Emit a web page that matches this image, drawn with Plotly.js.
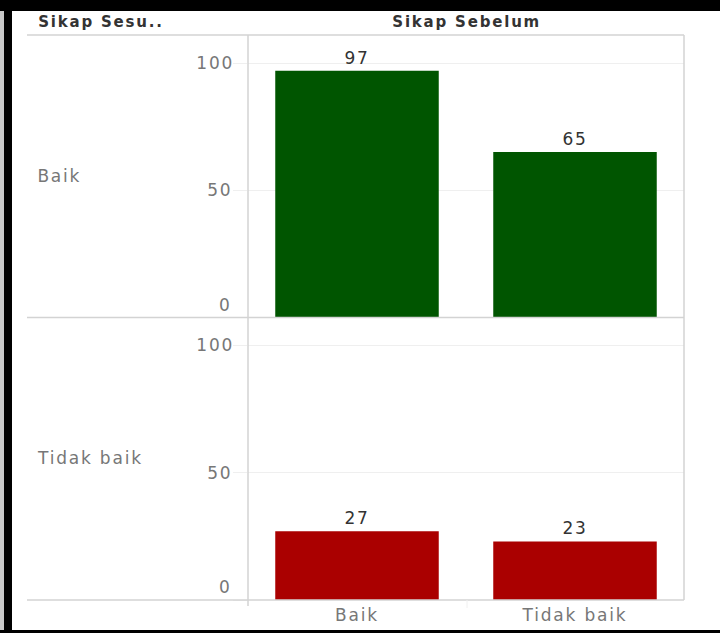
<!DOCTYPE html>
<html>
<head>
<meta charset="utf-8">
<script src="https://cdn.plot.ly/plotly-3.0.1.min.js"></script>
<style>
html,body{margin:0;padding:0;background:#fff;}
#chart{width:720px;height:633px;}
#chart text{letter-spacing:1.8px;}
</style>
</head>
<body>
<div id="chart"></div>
<script>
// Columns: Sikap Sebelum ; Rows: Sikap Sesudah
const categories = ["Baik", "Tidak baik"];
const rowLabels = ["Baik", "Tidak baik"];
const valuesRowBaik = [97, 65];
const valuesRowTidakBaik = [27, 23];
const yTicks = [0, 50, 100];
const colHeader = "Sikap Sebelum";
const rowHeader = "Sikap Sesu..";

const W = 720, H = 633;
const L = 248, R = 684, T = 35, B = 600;
const px = x => (x - L) / (R - L);
const py = y => (B - y) / (B - T);

const FONT = "DejaVu Sans";
const FS = 17;
const gray = "#777777";
const dark = "#333333";
const lineCol = "#d3d3d3";

const traces = [
  {type: "bar", x: categories, y: valuesRowBaik, xaxis: "x", yaxis: "y",
   marker: {color: "#005500"}, width: 0.75,
   text: valuesRowBaik.map(String), textposition: "outside", cliponaxis: false,
   textfont: {family: FONT, size: FS, color: dark}, hoverinfo: "x+y"},
  {type: "bar", x: categories, y: valuesRowTidakBaik, xaxis: "x", yaxis: "y2",
   marker: {color: "#aa0000"}, width: 0.75,
   text: valuesRowTidakBaik.map(String), textposition: "outside", cliponaxis: false,
   textfont: {family: FONT, size: FS, color: dark}, hoverinfo: "x+y"}
];

const yCommon = {
  tickvals: yTicks, showticklabels: false,
  showgrid: true, gridcolor: "#efefef", gridwidth: 1,
  zeroline: false, showline: false,
  ticks: "outside", ticklen: 14, tickcolor: "#efefef",
  fixedrange: true
};

const shapes = [];
function hline(y, x0, x1, col, w) {
  shapes.push({type: "line", xref: "paper", yref: "paper", x0: px(x0), x1: px(x1), y0: py(y), y1: py(y),
    line: {color: col, width: w}});
}
function vline(x, y0, y1, col, w) {
  shapes.push({type: "line", xref: "paper", yref: "paper", x0: px(x), x1: px(x), y0: py(y0), y1: py(y1),
    line: {color: col, width: w}});
}
function rect(x0, y0, x1, y1, col) {
  shapes.push({type: "rect", xref: "paper", yref: "paper", x0: px(x0), x1: px(x1), y0: py(y1), y1: py(y0),
    fillcolor: col, line: {width: 0}, layer: "above"});
}
hline(35, 27, 684, lineCol, 1.5);
hline(317.5, 27, 684, lineCol, 1.5);
hline(600, 27, 684, lineCol, 1.5);
vline(248, 35, 606, lineCol, 1.5);
vline(684, 35, 600, lineCol, 1.5);
vline(467, 600, 608, "#f0f0f0", 1);
// frame
rect(0, 0, 4, 633, "#c8c8c8");
rect(4, 0, 12, 633, "#000000");
rect(0, 0, 720, 11, "#000000");
rect(0, 630, 720, 633, "#000000");

const annotations = [
  {text: "<b>" + rowHeader + "</b>", xref: "paper", yref: "paper", x: px(47), y: py(22), xanchor: "left", yanchor: "middle",
   showarrow: false, font: {family: FONT, size: 15, color: dark}},
  {text: "<b>" + colHeader + "</b>", xref: "paper", yref: "paper", x: px(466), y: py(22), xanchor: "center", yanchor: "middle",
   showarrow: false, font: {family: FONT, size: 15, color: dark}},
  {text: rowLabels[0], xref: "paper", yref: "paper", x: px(39), y: py(176), xanchor: "left", yanchor: "middle",
   showarrow: false, font: {family: FONT, size: FS, color: gray}},
  {text: rowLabels[1], xref: "paper", yref: "paper", x: px(44), y: py(458), xanchor: "left", yanchor: "middle",
   showarrow: false, font: {family: FONT, size: FS, color: gray}}
];
["y", "y2"].forEach(ax => {
  yTicks.forEach(v => {
    annotations.push({text: String(v), xref: "paper", yref: ax, x: px(233), y: v,
      xanchor: "right", yanchor: v === 0 ? "bottom" : "middle", yshift: v === 0 ? 1 : 0,
      showarrow: false, font: {family: FONT, size: FS, color: gray}});
  });
});

const layout = {
  width: W, height: H,
  margin: {l: L, r: W - R, t: T, b: H - B, pad: 0},
  paper_bgcolor: "#ffffff", plot_bgcolor: "#ffffff",
  showlegend: false, bargap: 0.25,
  xaxis: {anchor: "y2", showgrid: false, zeroline: false, showline: false, ticks: "",
    tickfont: {family: FONT, size: FS, color: gray}, fixedrange: true, ticklabelstandoff: 3},
  yaxis: Object.assign({}, yCommon, {domain: [py(317.5), 1], range: [0, 111], anchor: "x"}),
  yaxis2: Object.assign({}, yCommon, {domain: [0, py(318.5)], range: [0, 110.6], anchor: "x"}),
  shapes: shapes,
  annotations: annotations
};

Plotly.newPlot("chart", traces, layout, {displayModeBar: false, staticPlot: true});
</script>
</body>
</html>
